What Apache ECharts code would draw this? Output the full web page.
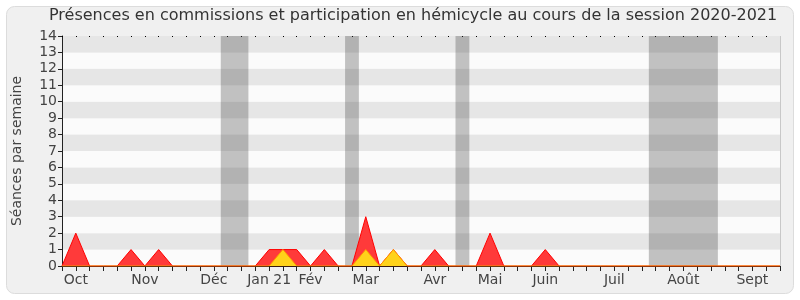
<!DOCTYPE html>
<html><head><meta charset="utf-8">
<script src="https://cdn.jsdelivr.net/npm/echarts@6/dist/echarts.min.js"></script>
<style>html,body{margin:0;padding:0;background:#fff}#c{width:800px;height:300px}</style>
</head><body><div id="c"></div>
<script>
const title = 'Présences en commissions et participation en hémicycle au cours de la session 2020-2021';
const yName = 'Séances par semaine';
const monthLabels = ['Oct','Nov','Déc','Jan 21','Fév','Mar','Avr','Mai','Juin','Juil','Août','Sept'];
const monthWeek = [1,6,11,15,18,22,27,31,35,40,45,50];
const commissions = [0,2,0,0,0,1,0,1,0,0,0,0,0,0,0,1,1,1,0,1,0,0,3,0,1,0,0,1,0,0,0,2,0,0,0,1,0,0,0,0,0,0,0,0,0,0,0,0,0,0,0,0,0];
const hemicycle   = [0,0,0,0,0,0,0,0,0,0,0,0,0,0,0,0,1,0,0,0,0,0,1,0,1,0,0,0,0,0,0,0,0,0,0,0,0,0,0,0,0,0,0,0,0,0,0,0,0,0,0,0,0];
const vacations = [[11.5,13.5],[20.5,21.5],[28.5,29.5],[42.5,47.5]];
const yTicks = [0,1,2,3,4,5,6,7,8,9,10,11,12,13,14];

const labelMap = {};
monthWeek.forEach((w,i)=>labelMap[w]=monthLabels[i]);
const toPts = arr => arr.map((v,i)=>[i,v]);
const font = 'DejaVu Sans';
const chart = echarts.init(document.getElementById('c'), null, {renderer:'canvas'});
chart.setOption({
  animation:false,
  backgroundColor:'#fff',
  textStyle:{fontFamily:font},
  graphic:[{type:'rect',z:-10,shape:{x:6.5,y:6.5,width:787,height:287,r:8},style:{fill:'#f0f0f0',stroke:'#dcdcdc',lineWidth:1}},
           {type:'line',z:5,shape:{x1:780.5,y1:36,x2:780.5,y2:266},style:{stroke:'#c8c8c8',lineWidth:1}}],
  title:{text:title,left:44,top:3,textStyle:{fontFamily:font,fontSize:16,fontWeight:'normal',color:'#333'}},
  grid:{left:62,right:20,top:36,bottom:34,show:false},
  xAxis:[
    {type:'value',min:0,max:52,interval:1,position:'bottom',
     axisLine:{show:true,lineStyle:{color:'#3a1a10',width:1}},
     axisTick:{show:true,length:5,lineStyle:{color:'#222'}},
     axisLabel:{show:false},splitLine:{show:false}},
    {type:'value',min:0,max:52,interval:1,position:'bottom',
     axisLine:{show:false},axisTick:{show:false},splitLine:{show:false},
     axisLabel:{show:true,color:'#444',fontSize:14,margin:7,fontFamily:font,formatter:v=>labelMap[v]||''}},
    {type:'value',min:0,max:52,interval:1,position:'top',
     axisLine:{show:false},axisTick:{show:true,inside:true,length:1,lineStyle:{color:'#000'}},
     axisLabel:{show:false},splitLine:{show:false}}
  ],
  yAxis:{type:'value',min:0,max:14,interval:1,
    name:yName,nameLocation:'middle',nameGap:38,nameTextStyle:{fontSize:14,color:'#444',fontFamily:font},
    axisLine:{show:true,lineStyle:{color:'#222'}},
    axisTick:{show:true,length:4,lineStyle:{color:'#222'}},
    axisLabel:{color:'#444',fontSize:14,margin:5,fontFamily:font,formatter:v=>yTicks.includes(v)?String(v):''},
    splitLine:{show:false},
    splitArea:{show:true,areaStyle:{color:['#fbfbfb','#e6e6e6']}}},
  series:[
    {type:'line',name:'vac',data:[],xAxisIndex:0,silent:true,
     markArea:{silent:true,itemStyle:{color:'rgba(60,60,60,0.3)'},data:vacations.map(v=>[{xAxis:v[0]},{xAxis:v[1]}])}},
    {type:'line',name:'Commissions',data:toPts(commissions),xAxisIndex:0,symbol:'none',
     lineStyle:{color:'#ff0000',width:1},areaStyle:{color:'#ff3a3a',opacity:1},z:3},
    {type:'line',name:'Hémicycle',data:toPts(hemicycle),xAxisIndex:0,symbol:'none',
     lineStyle:{color:'#ff9900',width:1},areaStyle:{color:'#ffd21a',opacity:1},z:4}
  ]
});
</script></body></html>
